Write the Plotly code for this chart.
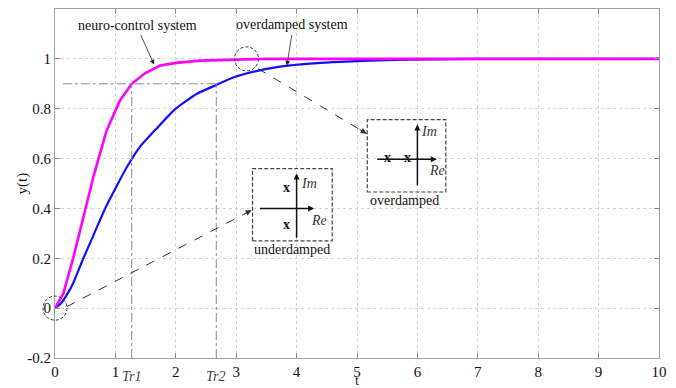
import plotly.graph_objects as go

# ---- data ----
t_neuro = [0, 0.14, 0.3, 0.5, 0.65, 0.855, 1.076, 1.27, 1.49, 1.74, 2.01, 2.4, 2.9, 3.5, 5, 7, 10]
y_neuro = [0, 0.06, 0.2, 0.4, 0.54, 0.713, 0.833, 0.9, 0.942, 0.973, 0.984, 0.993, 0.997, 1.0, 1.0, 1.0, 1.0]

t_over = [0, 0.1, 0.2, 0.3, 0.47, 0.65, 0.83, 1.0, 1.2, 1.4, 1.68, 2.0, 2.35, 2.68, 2.95, 3.37, 3.86,
          4.4, 4.9, 5.5, 6.2, 7.0, 8, 9, 10]
y_over = [0, 0.02, 0.055, 0.1, 0.2, 0.3, 0.4, 0.48, 0.57, 0.645, 0.72, 0.8, 0.86, 0.896, 0.925, 0.953, 0.973,
          0.984, 0.99, 0.995, 0.998, 1.0, 1.0, 1.0, 1.0]

x_ticks = [0, 1, 2, 3, 4, 5, 6, 7, 8, 9, 10]
y_ticks = [-0.2, 0, 0.2, 0.4, 0.6, 0.8, 1]
y_tick_text = ["-0.2", "0", "0.2", "0.4", "0.6", "0.8", "1"]

Tr1 = 1.27
Tr2 = 2.67
y_rise = 0.9

FONT = "Liberation Serif"
GRAY = "#8a8a8a"
Y0, Y1 = -0.2, 1.2


def ypaper(v):
    return (v - Y0) / (Y1 - Y0)


fig = go.Figure()
fig.add_trace(go.Scatter(x=t_over, y=y_over, mode="lines",
                         line=dict(color="#1010ff", width=2.2, shape="spline", smoothing=0.6),
                         showlegend=False))
fig.add_trace(go.Scatter(x=t_neuro, y=y_neuro, mode="lines",
                         line=dict(color="#ff00ff", width=2.6), showlegend=False))

shapes = []
# rise-time guide lines
shapes.append(dict(type="line", xref="x", yref="y", x0=0.13, x1=Tr2, y0=y_rise, y1=y_rise,
                   line=dict(color=GRAY, width=1, dash="dashdot")))
for tr in (Tr1, Tr2):
    shapes.append(dict(type="line", xref="x", yref="y", x0=tr, x1=tr, y0=Y0, y1=y_rise,
                       line=dict(color=GRAY, width=1, dash="dashdot")))

CIRC = dict(color="#333", width=1, dash="3px,2px")
# dashed circles
shapes.append(dict(type="circle", xref="paper", yref="paper", xsizemode="pixel", ysizemode="pixel",
                   xanchor=3.17 / 10, yanchor=ypaper(1.0), x0=-12, x1=12, y0=-12, y1=12,
                   line=CIRC))
shapes.append(dict(type="circle", xref="paper", yref="paper", xsizemode="pixel", ysizemode="pixel",
                   xanchor=0, yanchor=ypaper(0), x0=-12, x1=12, y0=-12, y1=12,
                   line=CIRC))

# dashed connector lines
shapes.append(dict(type="line", xref="x", yref="y", x0=3.36, y0=0.961, x1=5.16, y1=0.70,
                   line=dict(color="#333", width=1, dash="dash")))
shapes.append(dict(type="line", xref="x", yref="y", x0=0.194, y0=0.006, x1=3.256, y1=0.393,
                   line=dict(color="#333", width=1, dash="dash")))

# pole-plot boxes
shapes.append(dict(type="rect", xref="x", yref="y", x0=3.27, x1=4.59, y0=0.27, y1=0.56,
                   line=dict(color="#444", width=1.2, dash="4px,2px"), fillcolor="rgba(0,0,0,0)"))
shapes.append(dict(type="rect", xref="x", yref="y", x0=5.17, x1=6.47, y0=0.466, y1=0.756,
                   line=dict(color="#444", width=1.2, dash="4px,2px"), fillcolor="rgba(0,0,0,0)"))

annotations = []


def arrow(x, y, ax, ay, width=1.0, head=2, size=1.0, color="#222", axref="pixel"):
    d = dict(x=x, y=y, xref="x", yref="y", text="", showarrow=True, arrowhead=head,
             arrowsize=size, arrowwidth=width, arrowcolor=color, ax=ax, ay=ay, standoff=0)
    if axref != "pixel":
        d.update(axref="x", ayref="y")
    annotations.append(d)


def label(x, y, text, size=14, italic=False, color="#111", xref="x", yref="y", angle=0):
    txt = f"<i>{text}</i>" if italic else text
    annotations.append(dict(x=x, y=y, xref=xref, yref=yref, text=txt, showarrow=False,
                            xanchor="center", yanchor="middle", textangle=angle,
                            font=dict(family=FONT, size=size, color=color)))


# labels with arrows
label(1.36, 1.133, "neuro-control system")
arrow(1.64, 0.977, -14, -31, width=0.8, head=2, size=1.2)
label(3.92, 1.137, "overdamped system")
arrow(3.84, 0.973, 5, -32, width=0.8, head=2, size=1.2)

# arrowheads for dashed connectors
arrow(5.16, 0.70, -8.6, -5.2, width=1, head=2, size=1.2, color="#333")
arrow(3.256, 0.393, -8.9, 4.6, width=1, head=2, size=1.2, color="#333")

# underdamped pole plot
arrow(4.0, 0.54, 4.0, 0.276, width=1.5, head=2, size=0.8, color="#111", axref="x")
arrow(4.29, 0.40, 3.37, 0.40, width=1.5, head=2, size=0.8, color="#111", axref="x")
label(3.84, 0.485, "<b>x</b>", size=14)
label(3.84, 0.335, "<b>x</b>", size=14)
label(4.21, 0.50, "Im", size=14, italic=True, color="#333")
label(4.37, 0.353, "Re", size=14, italic=True, color="#333")
label(3.92, 0.236, "underdamped", size=14)

# overdamped pole plot
arrow(6.0, 0.737, 6.0, 0.486, width=1.5, head=2, size=0.8, color="#111", axref="x")
arrow(6.32, 0.597, 5.31, 0.597, width=1.5, head=2, size=0.8, color="#111", axref="x")
label(5.50, 0.603, "<b>x</b>", size=14)
label(5.84, 0.603, "<b>x</b>", size=14)
label(6.20, 0.71, "Im", size=14, italic=True, color="#333")
label(6.32, 0.553, "Re", size=14, italic=True, color="#333")
label(5.79, 0.433, "overdamped", size=14)

# rise-time labels below axis (paper y so they are not hidden)
label(Tr1, ypaper(-0.275), "Tr1", size=14, italic=True, color="#444", yref="paper")
label(Tr2 - 0.02, ypaper(-0.275), "Tr2", size=14, italic=True, color="#444", yref="paper")

# axis titles
label(0.5, ypaper(-0.291), "t", size=14, xref="paper", yref="paper")
label(-0.0546, 0.5, "y(t)", size=15, xref="paper", yref="paper", angle=-90)

axis_common = dict(showline=True, linecolor="#a0a0a0", linewidth=1, mirror="ticks",
                   ticks="inside", ticklen=5, tickcolor="#888",
                   showgrid=True, gridcolor="#d4d4d4", griddash="dot", gridwidth=1,
                   zeroline=False, tickfont=dict(family=FONT, size=15, color="#111"))

fig.update_xaxes(range=[0, 10], tickvals=x_ticks, **axis_common)
fig.update_yaxes(range=[Y0, Y1], tickvals=y_ticks, ticktext=y_tick_text, **axis_common)

# the page body adds an 8px offset, so the figure is 8px smaller and margins shifted
fig.update_layout(width=668, height=380, margin=dict(l=47, r=17, t=1, b=30),
                  plot_bgcolor="white", paper_bgcolor="white",
                  shapes=shapes, annotations=annotations, showlegend=False)

fig.write_html("out.html")
